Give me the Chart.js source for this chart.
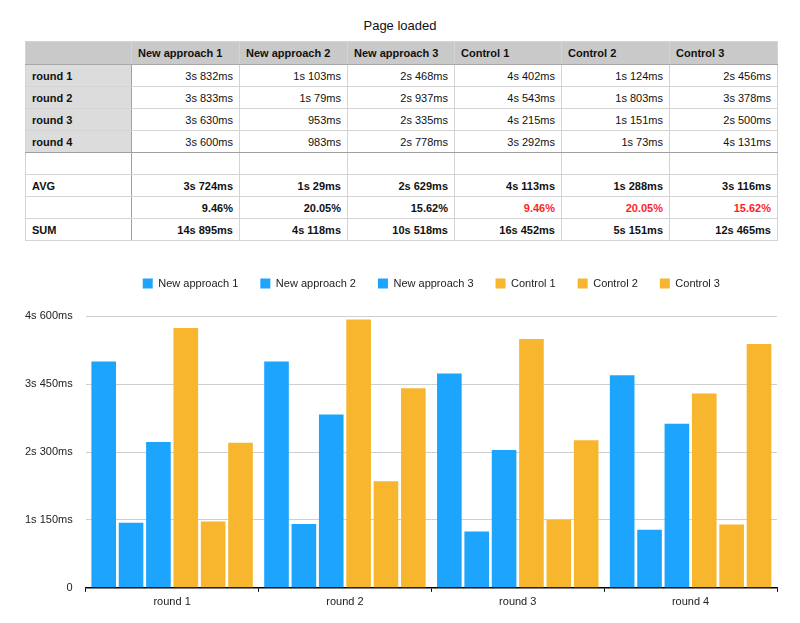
<!DOCTYPE html>
<html>
<head>
<meta charset="utf-8">
<script src="https://cdn.jsdelivr.net/npm/chart.js@4.4.0/dist/chart.umd.min.js"></script>
<style>
  html, body { margin: 0; padding: 0; background: #fff; }
  body { width: 800px; height: 623px; position: relative; overflow: hidden; font-family: "Liberation Sans", Arial, Helvetica, sans-serif; }
  #title { position: absolute; top: 18px; left: 0; width: 800px; text-align: center; font-size: 13px; color: #111; }
  table { position: absolute; top: 41px; left: 25px; border-collapse: collapse; font-size: 11px; color: #111; table-layout: fixed; }
  td, th { border: 1px solid #d4d4d4; height: 21px; padding: 0 6px; white-space: nowrap; }
  th { background: #c9c9c9; text-align: left; font-weight: bold; border-bottom: 1px solid #a8a8a8; height: 22px; }
  td { text-align: right; }
  td.lab { text-align: left; font-weight: bold; border-right: 1px solid #a0a0a0; }
  td.grey { background: #dcdcdc; }
  tr.sep td { border-bottom: 1px solid #a0a0a0; }
  tr.bold td { font-weight: bold; }
  td.red { color: #ff1f1f; }
  #wrap { position: absolute; top: 256px; left: 0; width: 800px; height: 367px; }
</style>
</head>
<body>
<div id="title">Page loaded</div>
<table id="tbl"></table>
<div id="wrap"><canvas id="c"></canvas></div>
<script>
const categories = ['round 1', 'round 2', 'round 3', 'round 4'];
const seriesNames = ['New approach 1', 'New approach 2', 'New approach 3', 'Control 1', 'Control 2', 'Control 3'];
const newApproach1 = [3832, 3833, 3630, 3600];
const newApproach2 = [1103, 1079, 953, 983];
const newApproach3 = [2468, 2937, 2335, 2778];
const control1 = [4402, 4543, 4215, 3292];
const control2 = [1124, 1803, 1151, 1073];
const control3 = [2456, 3378, 2500, 4131];
const avgLabels = ['3s 724ms', '1s 29ms', '2s 629ms', '4s 113ms', '1s 288ms', '3s 116ms'];
const pctLabels = ['9.46%', '20.05%', '15.62%', '9.46%', '20.05%', '15.62%'];
const sumLabels = ['14s 895ms', '4s 118ms', '10s 518ms', '16s 452ms', '5s 151ms', '12s 465ms'];
const yTickValues = [0, 1150, 2300, 3450, 4600];
const yTickLabels = ['0', '1s 150ms', '2s 300ms', '3s 450ms', '4s 600ms'];

const allSeries = [newApproach1, newApproach2, newApproach3, control1, control2, control3];
const blue = '#1da5fe';
const orange = '#f7b62d';
const colors = [blue, blue, blue, orange, orange, orange];

function fmt(ms) {
  const s = Math.floor(ms / 1000), r = ms % 1000;
  return s > 0 ? s + 's ' + r + 'ms' : r + 'ms';
}

// Build table
const tbl = document.getElementById('tbl');
const colW = [106, 108, 108, 107, 107, 108, 108];
let html = '<colgroup>' + colW.map(w => '<col style="width:' + w + 'px">').join('') + '</colgroup>';
html += '<tr><th></th>' + seriesNames.map(n => '<th>' + n + '</th>').join('') + '</tr>';
categories.forEach((c, i) => {
  html += '<tr' + (i === 3 ? ' class="sep"' : '') + '><td class="lab grey">' + c + '</td>' +
    allSeries.map(s => '<td>' + fmt(s[i]) + '</td>').join('') + '</tr>';
});
html += '<tr><td class="lab"></td>' + seriesNames.map(() => '<td></td>').join('') + '</tr>';
html += '<tr class="bold"><td class="lab">AVG</td>' + avgLabels.map(v => '<td>' + v + '</td>').join('') + '</tr>';
html += '<tr class="bold"><td class="lab"></td>' + pctLabels.map((v, i) => '<td' + (i >= 3 ? ' class="red"' : '') + '>' + v + '</td>').join('') + '</tr>';
html += '<tr class="bold"><td class="lab">SUM</td>' + sumLabels.map(v => '<td>' + v + '</td>').join('') + '</tr>';
tbl.innerHTML = html;

Chart.defaults.font.family = '"Liberation Sans", Arial, Helvetica, sans-serif';
Chart.defaults.font.size = 11;
Chart.defaults.color = '#222';
new Chart(document.getElementById('c'), {
  type: 'bar',
  data: {
    labels: categories,
    datasets: seriesNames.map((n, i) => ({
      label: n,
      data: allSeries[i],
      backgroundColor: colors[i],
      borderWidth: 0,
      barPercentage: 0.9,
      categoryPercentage: 0.95
    }))
  },
  options: {
    responsive: true,
    maintainAspectRatio: false,
    animation: false,
    layout: { padding: { top: 0, left: 12, right: 23, bottom: 10 } },
    plugins: {
      legend: {
        position: 'top',
        fullSize: false,
        labels: { boxWidth: 10, boxHeight: 10, padding: 22, color: '#222' }
      },
      title: {
        display: true,
        text: ' ',
        position: 'top',
        weight: 500,
        fullSize: false,
        font: { size: 1 },
        padding: { top: 0, bottom: 16 }
      },
      tooltip: { enabled: false }
    },
    scales: {
      x: {
        grid: { drawOnChartArea: false, drawTicks: true, tickLength: 4, color: '#000' },
        border: { display: true, color: '#000', width: 1.5 },
        ticks: { color: '#222', padding: 4 }
      },
      y: {
        min: 0,
        max: 4600,
        afterBuildTicks: (axis) => { axis.ticks = yTickValues.map(v => ({ value: v })); },
        grid: { color: '#cfcfcf', drawTicks: false, lineWidth: 1 },
        border: { display: false },
        ticks: {
          padding: 13,
          color: '#222',
          callback: (v) => { const k = yTickValues.indexOf(v); return k >= 0 ? yTickLabels[k] : ''; }
        }
      }
    }
  }
});
</script>
</body>
</html>
